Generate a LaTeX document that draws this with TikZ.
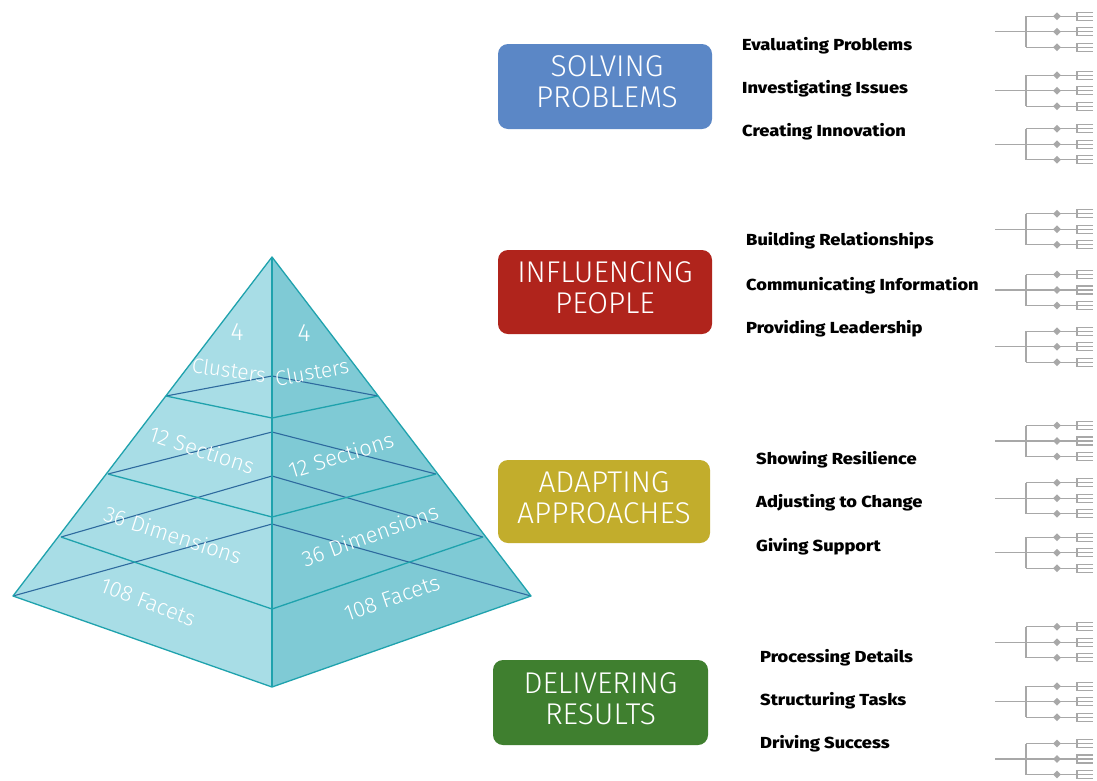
\documentclass[tikz,border=0pt]{standalone}
\usepackage{fontspec}
\setmainfont{Fira Sans}
\newfontfamily\thinfont{Fira Sans Light}
\newfontfamily\heavyfont{Fira Sans ExtraBold}
\usetikzlibrary{shapes.geometric}
\definecolor{cblue}{HTML}{5B87C6}
\definecolor{cred}{HTML}{B0241C}
\definecolor{cyel}{HTML}{C2AD2C}
\definecolor{cgreen}{HTML}{3F7F2F}
\definecolor{faceL}{HTML}{A8DDE6}
\definecolor{faceR}{HTML}{7FCAD5}
\definecolor{edgeF}{HTML}{1FA2AD}
\definecolor{edgeB}{HTML}{2E6A9E}
\definecolor{icongray}{HTML}{A8A8A8}
\newcommand\itxt[1]{\scalebox{1.14}[1]{#1}}
\tikzset{
  catbox/.style={rounded corners=10pt, inner sep=0pt},
  cattext/.style={inner sep=0pt, text=white, align=center,
    font=\thinfont\fontsize{30}{31}\selectfont},
  itemlbl/.style={anchor=mid west, inner sep=0pt, font=\heavyfont\fontsize{16}{19}\selectfont},
  pyrlbl/.style={inner sep=0pt, text=white, font=\thinfont\fontsize{22}{26}\selectfont},
  frontline/.style={draw=edgeF, line width=1.3pt, line join=round},
  backline/.style={draw=edgeB, line width=1.1pt, line join=round},
  iconline/.style={draw=icongray, line width=1.1pt},
  icondot/.style={diamond, fill=icongray, inner sep=0pt, minimum size=8pt}
}
\begin{document}
\begin{tikzpicture}[x=1pt,y=-1pt]
\useasboundingbox (0,0) rectangle (1097,780);
\fill[white] (0,0) rectangle (1097,780);
% ---------- pyramid ----------
\coordinate (A) at (272,257);
\coordinate (L0) at (13,596);  \coordinate (F0) at (272,687); \coordinate (R0) at (531,596); \coordinate (B0) at (272,524);
\coordinate (L1) at (166,396); \coordinate (F1) at (272,418); \coordinate (R1) at (378,396); \coordinate (B1) at (272,376);
\coordinate (L2) at (108,474); \coordinate (F2) at (272,517); \coordinate (R2) at (436,474); \coordinate (B2) at (272,432);
\coordinate (L3) at (61,537);  \coordinate (F3) at (272,609); \coordinate (R3) at (483,537); \coordinate (B3) at (272,476);
\fill[faceL] (A) -- (L0) -- (F0) -- cycle;
\fill[faceR] (A) -- (F0) -- (R0) -- cycle;
\foreach \k in {0,1,2,3} {
  \draw[backline] (L\k) -- (B\k) -- (R\k);
}
\foreach \k in {1,2,3} {
  \draw[frontline] (L\k) -- (F\k) -- (R\k);
}
\draw[frontline] (A) -- (L0) -- (F0) -- (R0) -- cycle;
\draw[frontline] (A) -- (F0);
% pyramid labels
\node[pyrlbl, font=\thinfont\fontsize{25}{28}\selectfont] (p4l) at (237,332) {4};
\node[pyrlbl, font=\thinfont\fontsize{25}{28}\selectfont] (p4r) at (304,333) {4};
\node[pyrlbl, font=\thinfont\fontsize{21}{24}\selectfont, rotate=-8] (pcl) at (229,370) {Clusters};
\node[pyrlbl, font=\thinfont\fontsize{21}{24}\selectfont, rotate=10] (pcr) at (312,372) {Clusters};
\node[pyrlbl, rotate=-18] (psl) at (202,450) {12 Sections};
\node[pyrlbl, rotate=17] (psr) at (341,455) {12 Sections};
\node[pyrlbl, rotate=-18] (pdl) at (173,535) {36 Dimensions};
\node[pyrlbl, rotate=20] (pdr) at (370,535) {36 Dimensions};
\node[pyrlbl, rotate=-21] (pfl) at (148,602) {108 Facets};
\node[pyrlbl, rotate=19] (pfr) at (392,598) {108 Facets};
% ---------- category boxes ----------
\node[catbox, fill=cblue, minimum width=214pt, minimum height=85pt] (solve) at (605,86.5) {};
\node[cattext] (solveT) at (607,82) {SOLVING\\PROBLEMS};
\node[catbox, fill=cred, minimum width=214pt, minimum height=84pt] (infl) at (605,292) {};
\node[cattext] (inflT) at (605,288) {INFLUENCING\\PEOPLE};
\node[catbox, fill=cyel, minimum width=212pt, minimum height=83pt] (adapt) at (604,501.5) {};
\node[cattext] (adaptT) at (604,497.5) {ADAPTING\\APPROACHES};
\node[catbox, fill=cgreen, minimum width=215pt, minimum height=85pt] (deliv) at (600.5,702.5) {};
\node[cattext] (delivT) at (600.5,698.5) {DELIVERING\\RESULTS};
% ---------- items ----------
\node[itemlbl] (i11) at (742,48) {\itxt{Evaluating Problems}};
\node[itemlbl] (i12) at (742,91) {\itxt{Investigating Issues}};
\node[itemlbl] (i13) at (742,134) {\itxt{Creating Innovation}};
\node[itemlbl] (i21) at (746,243) {\itxt{Building Relationships}};
\node[itemlbl] (i22) at (746,288) {\itxt{Communicating Information}};
\node[itemlbl] (i23) at (746,331) {\itxt{Providing Leadership}};
\node[itemlbl] (i31) at (756,462) {\itxt{Showing Resilience}};
\node[itemlbl] (i32) at (756,505) {\itxt{Adjusting to Change}};
\node[itemlbl] (i33) at (756,549) {\itxt{Giving Support}};
\node[itemlbl] (i41) at (760,660) {\itxt{Processing Details}};
\node[itemlbl] (i42) at (760,703) {\itxt{Structuring Tasks}};
\node[itemlbl] (i43) at (760,746) {\itxt{Driving Success}};
% ---------- tree icons ----------
\foreach \c [count=\n] in {31.7,90.7,144.3,229.3,290,346.7,441,498.3,552.7,642.3,701.7,759} {
  \coordinate (s\n) at (995,\c);
  \coordinate (j\n) at (1026,\c);
  \draw[iconline] (s\n) -- (j\n);
  \draw[iconline] (1026,\c-15.5) -- (1026,\c+15.5);
  \foreach \o [count=\m] in {-15.5,0,15.5} {
    \coordinate (b\n-\m) at (1026,\c+\o);
    \coordinate (e\n-\m) at (1077,\c+\o);
    \draw[iconline] (b\n-\m) -- (e\n-\m);
    \node[icondot] (d\n-\m) at (1057,\c+\o) {};
    \draw[iconline] (1093,\c+\o-4) -- (1077,\c+\o-4) -- (1077,\c+\o+4) -- (1093,\c+\o+4);
    \draw[iconline] (e\n-\m) -- (1093,\c+\o);
  }
}
\end{tikzpicture}
\end{document}
